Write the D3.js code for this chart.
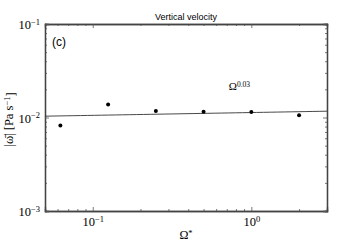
<!DOCTYPE html>
<html>
<head>
<meta charset="utf-8">
<script src="https://cdn.jsdelivr.net/npm/d3@7"></script>
<style>
  body { margin: 0; background: #fff; }
  svg { display: block; }
  .axis path { stroke: #444; stroke-width: 1.3; }
  .axis line { stroke: #555; stroke-width: 0.8; }
  .tick text { font-family: "Liberation Serif", serif; fill: #000; }
</style>
</head>
<body>
<div id="chart"></div>
<script>
// data
const omega = [0.0625, 0.125, 0.25, 0.5, 1, 2];
const omegaVel = [0.0082, 0.0138, 0.0117, 0.0115, 0.01145, 0.0106];
// power-law fit: a * omega^b
const fitA = 0.0113;
const fitB = 0.03;
const fitRange = [0.05, 3];

const xMajor = [0.1, 1];
const xMajorExp = ["−1", "0"];
const yMajor = [0.001, 0.01, 0.1];
const yMajorExp = ["−3", "−2", "−1"];

const margin = {top: 24, right: 36, bottom: 31, left: 45};
const width = 363 - margin.left - margin.right;
const height = 242 - margin.top - margin.bottom;

const svg = d3.select('#chart')
  .append('svg')
  .attr('width', 363)
  .attr('height', 242)
  .append('g')
  .attr('transform', 'translate(' + margin.left + ',' + margin.top + ')');

const xScale = d3.scaleLog().domain([0.05, 3]).range([0, width]);
const yScale = d3.scaleLog().domain([0.001, 0.1]).range([height, 0]);

// minor ticks
const xMinor = [];
[0.01, 0.1, 1].forEach(d => { for (let k = 2; k < 10; k++) xMinor.push(d * k); });
const xMinorIn = xMinor.filter(v => v >= 0.05 && v <= 3 && !xMajor.includes(v));
const yMinor = [];
[0.001, 0.01].forEach(d => { for (let k = 2; k < 10; k++) yMinor.push(d * k); });

function supLabel(sel, exps) {
  sel.each(function(d, i) {
    const t = d3.select(this).text(null);
    t.append('tspan').text('10').style('font-size', '12.5px');
    t.append('tspan').text(exps[i]).attr('dy', '-0.5em').style('font-size', '8.5px');
  });
}

// bottom
svg.append('g').attr('class', 'axis')
  .attr('transform', 'translate(0,' + height + ')')
  .call(d3.axisBottom(xScale).tickValues(xMinorIn).tickSize(-2).tickFormat(''));
const xAx = svg.append('g').attr('class', 'axis')
  .attr('transform', 'translate(0,' + height + ')')
  .call(d3.axisBottom(xScale).tickValues(xMajor).tickSize(-4).tickPadding(8));
xAx.selectAll('.tick text').call(supLabel, xMajorExp);

// top
svg.append('g').attr('class', 'axis')
  .call(d3.axisTop(xScale).tickValues(xMinorIn).tickSize(-2).tickFormat(''));
svg.append('g').attr('class', 'axis')
  .call(d3.axisTop(xScale).tickValues(xMajor).tickSize(-4).tickFormat(''));

// left
svg.append('g').attr('class', 'axis')
  .call(d3.axisLeft(yScale).tickValues(yMinor).tickSize(-2).tickFormat(''));
const yAx = svg.append('g').attr('class', 'axis')
  .call(d3.axisLeft(yScale).tickValues(yMajor).tickSize(-4).tickPadding(5));
yAx.selectAll('.tick text').call(supLabel, yMajorExp).attr('dy', '0.45em');

// right
svg.append('g').attr('class', 'axis')
  .attr('transform', 'translate(' + width + ',0)')
  .call(d3.axisRight(yScale).tickValues(yMinor).tickSize(-2).tickFormat(''));
svg.append('g').attr('class', 'axis')
  .attr('transform', 'translate(' + width + ',0)')
  .call(d3.axisRight(yScale).tickValues(yMajor).tickSize(-4).tickFormat(''));

// fit line
const fitPts = d3.range(0, 41).map(i => {
  const x = fitRange[0] * Math.pow(fitRange[1] / fitRange[0], i / 40);
  return [x, fitA * Math.pow(x, fitB)];
});
svg.append('path')
  .datum(fitPts)
  .attr('fill', 'none')
  .attr('stroke', '#333')
  .attr('stroke-width', 0.9)
  .attr('d', d3.line().x(d => xScale(d[0])).y(d => yScale(d[1])));

// points
svg.selectAll('.dot')
  .data(omega)
  .enter()
  .append('circle')
  .attr('class', 'dot')
  .attr('cx', d => xScale(d))
  .attr('cy', (d, i) => yScale(omegaVel[i]))
  .attr('r', 2)
  .attr('fill', '#000');

// annotation
const ann = svg.append('text')
  .attr('x', xScale(0.72))
  .attr('y', yScale(0.0196))
  .style('font-family', '"Liberation Serif", serif');
ann.append('tspan').text('Ω').style('font-size', '11px');
ann.append('tspan').text('0.03').attr('dy', '-0.45em').style('font-size', '7.5px');

// panel label
svg.append('text')
  .attr('x', 7)
  .attr('y', 22)
  .style('font-family', '"Liberation Sans", sans-serif')
  .style('font-size', '12px')
  .text('(c)');

// title
svg.append('text')
  .attr('x', width / 2)
  .attr('y', -4)
  .attr('text-anchor', 'middle')
  .style('font-family', '"Liberation Sans", sans-serif')
  .style('font-size', '9px')
  .text('Vertical velocity');

// x label
const xl = svg.append('text')
  .attr('x', width / 2)
  .attr('y', height + 28)
  .attr('text-anchor', 'middle')
  .style('font-family', '"Liberation Serif", serif');
xl.append('tspan').text('Ω').style('font-size', '12px');
xl.append('tspan').text('*').attr('dy', '-0.35em').style('font-size', '8.5px');

// y label
const yl = svg.append('text')
  .attr('transform', 'translate(' + (-32) + ',' + (height / 2 + 2) + ') rotate(-90)')
  .attr('text-anchor', 'middle')
  .style('font-family', '"Liberation Serif", serif')
  .style('font-size', '12.5px');
yl.append('tspan').text('|ω̄| [Pa s');
yl.append('tspan').text('−1').attr('dy', '-0.4em').style('font-size', '8.5px');
yl.append('tspan').text(']').attr('dy', '0.4em');
</script>
</body>
</html>
